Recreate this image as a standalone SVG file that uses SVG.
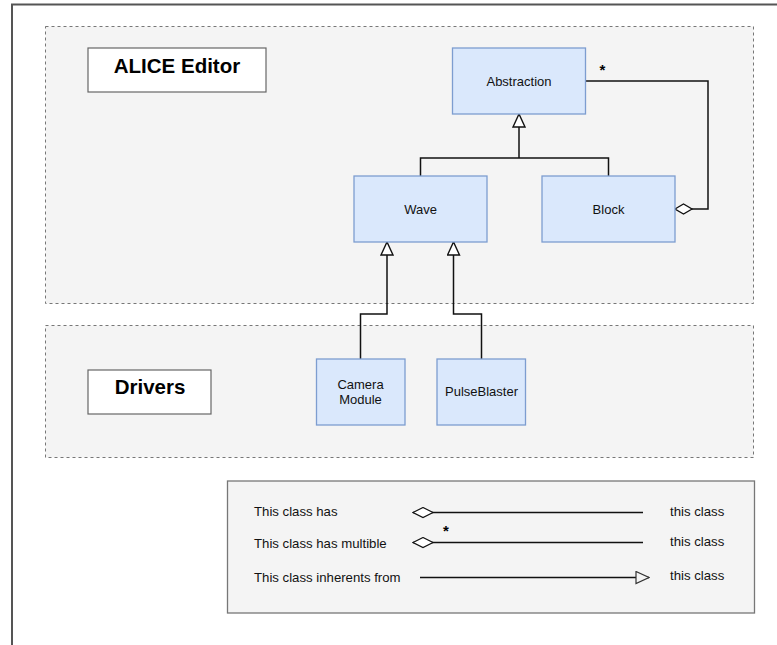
<svg xmlns="http://www.w3.org/2000/svg" width="777" height="645" viewBox="0 0 777 645">
  <defs>
    <style>
      .frame { fill: none; stroke: #555; stroke-width: 2; }
      .group { fill: #f4f4f4; stroke: #777; stroke-width: 1; stroke-dasharray: 3 3; }
      .label-box { fill: #fff; stroke: #666; stroke-width: 1.2; }
      .title { font-family: "Liberation Sans", Arial, sans-serif; font-size: 20.5px; font-weight: bold; fill: #000; text-anchor: middle; }
      .cls { fill: #dae8fc; stroke: #7d9dd0; stroke-width: 1.3; }
      .cls-text { font-family: "Liberation Sans", Arial, sans-serif; font-size: 13px; fill: #111; text-anchor: middle; }
      .edge { fill: none; stroke: #111; stroke-width: 1.5; }
      .mult { font-family: "Liberation Sans", Arial, sans-serif; font-size: 15px; font-weight: bold; fill: #000; text-anchor: middle; }
      .legend { fill: #f4f4f4; stroke: #777; stroke-width: 1.3; }
      .legend-text { font-family: "Liberation Sans", Arial, sans-serif; font-size: 13.2px; fill: #111; }
    </style>
    <!-- hollow triangle: generalisation -->
    <marker id="inherit" viewBox="0 0 15 14" markerWidth="15" markerHeight="14" refX="14" refY="7" orient="auto" markerUnits="userSpaceOnUse">
      <path d="M1,1 L14,7 L1,13 Z" fill="#fff" stroke="#111" stroke-width="1.4"/>
    </marker>
    <!-- hollow diamond: aggregation -->
    <marker id="agg" viewBox="0 0 20 12" markerWidth="20" markerHeight="12" refX="1" refY="6" orient="auto" markerUnits="userSpaceOnUse">
      <path d="M1,6 L9.5,1 L18,6 L9.5,11 Z" fill="#fff" stroke="#111" stroke-width="1.3"/>
    </marker>
    <marker id="agg-lg" viewBox="0 0 23 12" markerWidth="23" markerHeight="12" refX="1" refY="6" orient="auto" markerUnits="userSpaceOnUse">
      <path d="M1,6 L11,1 L21,6 L11,11 Z" fill="#fff" stroke="#111" stroke-width="1.2"/>
    </marker>
    <marker id="inherit-legend" viewBox="0 0 15 14" markerWidth="15" markerHeight="14" refX="14" refY="7" orient="auto" markerUnits="userSpaceOnUse">
      <path d="M1,1 L14,7 L1,13 Z" fill="#f4f4f4" stroke="#333" stroke-width="1.2"/>
    </marker>
  </defs>

  <!-- page frame -->
  <rect class="frame" x="12" y="4.5" width="800" height="700"/>

  <!-- package areas -->
  <g id="editor-area">
    <rect class="group" x="45.5" y="26.5" width="708" height="277"/>
    <rect class="label-box" x="88" y="48" width="178" height="44"/>
    <text class="title" x="177" y="73">ALICE Editor</text>
  </g>
  <g id="drivers-area">
    <rect class="group" x="45.5" y="325.5" width="708" height="132"/>
    <rect class="label-box" x="88" y="370" width="123" height="44"/>
    <text class="title" x="150" y="394">Drivers</text>
  </g>

  <!-- connectors -->
  <g id="connectors">
    <path class="edge" d="M420.5,176 V158 H608.5 V176"/>
    <path class="edge" d="M519,158 V114" marker-end="url(#inherit)"/>
    <path class="edge" d="M675,209 H708 V81 H586" marker-start="url(#agg)"/>
    <text class="mult" x="602.5" y="75">*</text>
    <path class="edge" d="M360.5,359 V314 H387 V242" marker-end="url(#inherit)"/>
    <path class="edge" d="M481.5,359 V314 H453.5 V242" marker-end="url(#inherit)"/>
  </g>

  <!-- classes -->
  <g id="abstraction">
    <rect class="cls" x="452.5" y="48" width="133" height="66"/>
    <text class="cls-text" x="519" y="86">Abstraction</text>
  </g>
  <g id="wave">
    <rect class="cls" x="354" y="176" width="133" height="66"/>
    <text class="cls-text" x="420.5" y="214">Wave</text>
  </g>
  <g id="block">
    <rect class="cls" x="542" y="176" width="133" height="66"/>
    <text class="cls-text" x="608.5" y="214">Block</text>
  </g>
  <g id="camera-module">
    <rect class="cls" x="316.5" y="359" width="88.5" height="66"/>
    <text class="cls-text" x="360.5" y="389">Camera</text>
    <text class="cls-text" x="360.5" y="404">Module</text>
  </g>
  <g id="pulseblaster">
    <rect class="cls" x="437" y="359" width="88.5" height="66"/>
    <text class="cls-text" x="481.5" y="396">PulseBlaster</text>
  </g>

  <!-- legend -->
  <g id="legend">
    <rect class="legend" x="227.5" y="481" width="527" height="132"/>
    <text class="legend-text" x="254" y="515.5">This class has</text>
    <path class="edge" d="M413,512.5 H643" stroke-width="1.3" marker-start="url(#agg-lg)"/>
    <text class="legend-text" x="670" y="515.5">this class</text>

    <text class="mult" x="446" y="536">*</text>
    <text class="legend-text" x="254" y="548">This class has multible</text>
    <path class="edge" d="M413,542.5 H643" stroke-width="1.3" marker-start="url(#agg-lg)"/>
    <text class="legend-text" x="670" y="546">this class</text>

    <text class="legend-text" x="254" y="581.5">This class inherents from</text>
    <path class="edge" d="M420,577.5 H649" stroke="#555" stroke-width="2" marker-end="url(#inherit-legend)"/>
    <text class="legend-text" x="670" y="579.5">this class</text>
  </g>
</svg>
